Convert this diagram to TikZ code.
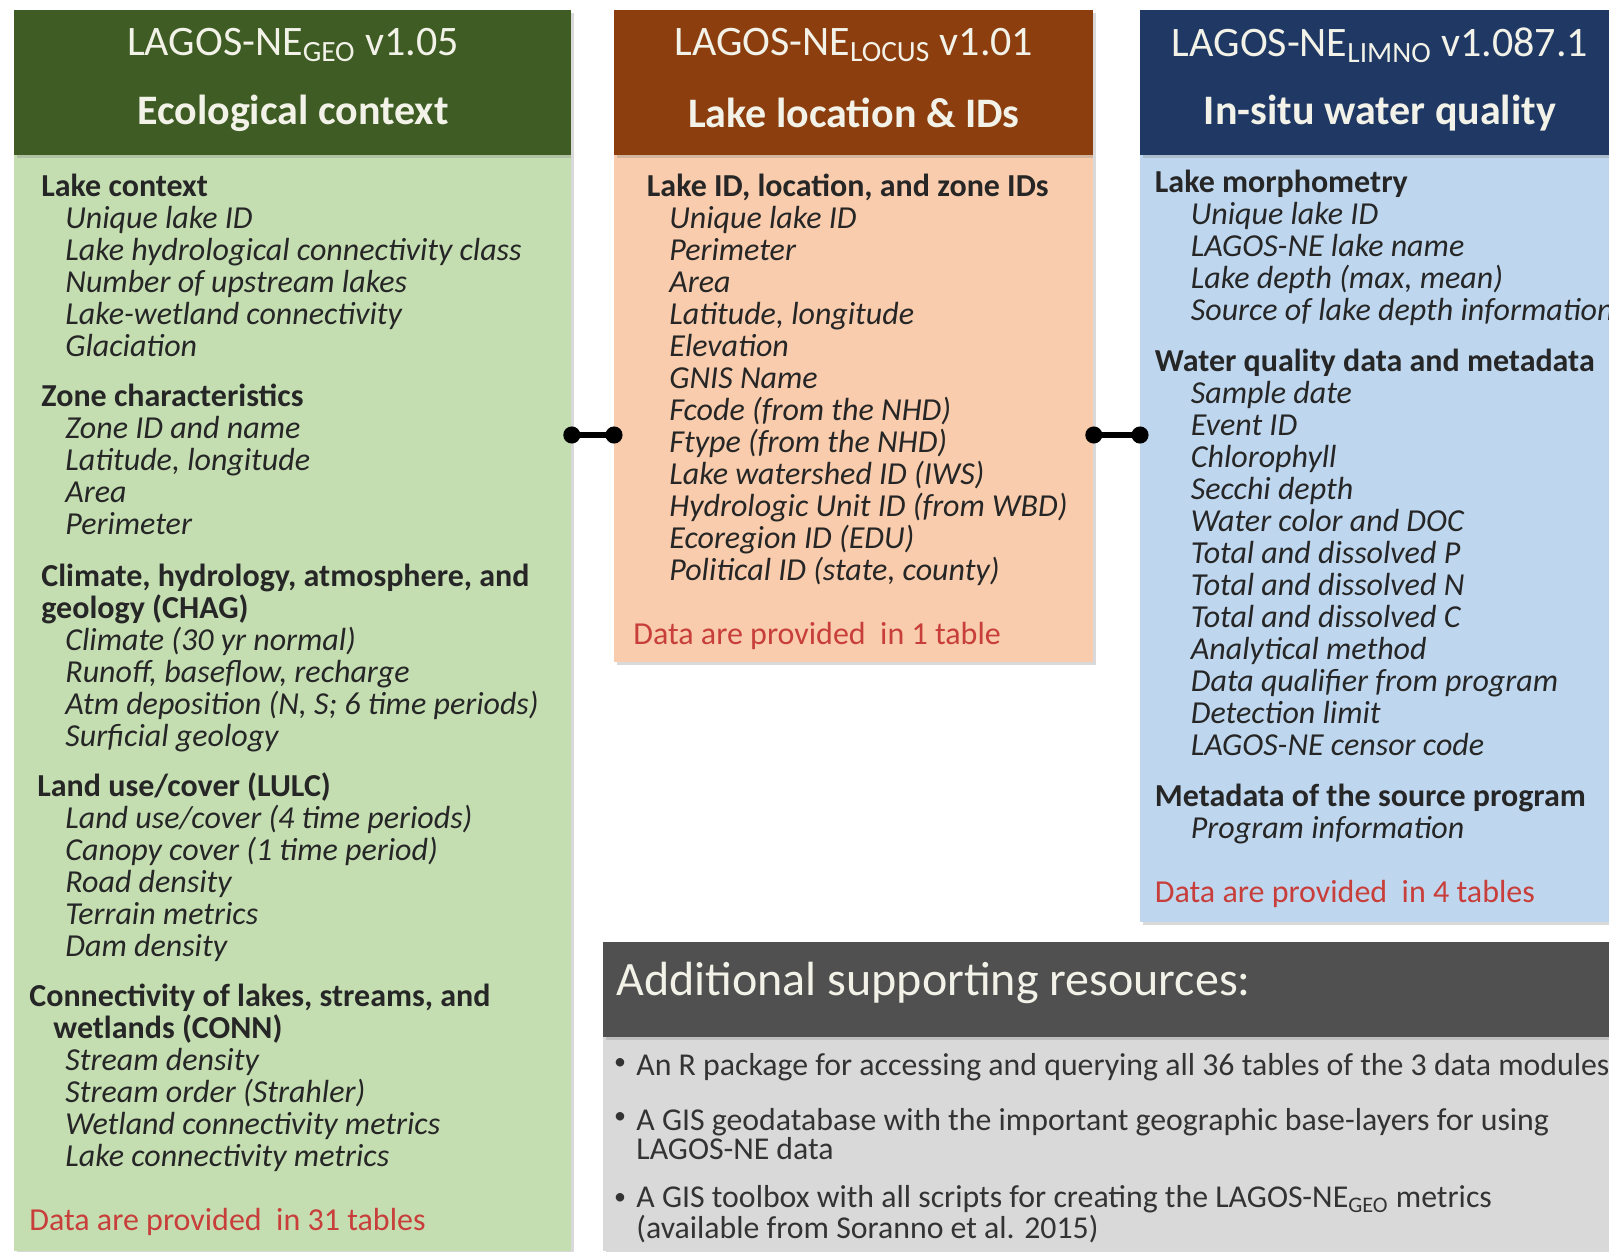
\documentclass[tikz,border=0pt]{standalone}
\usepackage{fontspec}
\setmainfont{Carlito}
\usetikzlibrary{positioning,shadows,arrows.meta}

\definecolor{geodark}{RGB}{62,92,35}
\definecolor{geolight}{RGB}{196,222,178}
\definecolor{locdark}{RGB}{140,62,14}
\definecolor{loclight}{RGB}{248,204,172}
\definecolor{limdark}{RGB}{31,56,100}
\definecolor{limlight}{RGB}{190,215,238}
\definecolor{resdark}{RGB}{80,80,80}
\definecolor{reslight}{RGB}{217,217,217}
\definecolor{datared}{RGB}{200,62,58}
\definecolor{hdrtext}{RGB}{242,242,232}

\newcommand{\itm}[1]{\hspace*{18pt}\textit{#1}}
\newcommand{\sect}[1]{\hspace*{6pt}\textbf{#1}}

\tikzset{
  panel/.style={rectangle, inner sep=0pt, anchor=north west, fill=#1,
    drop shadow={shadow xshift=1.5pt, shadow yshift=-1.5pt, opacity=.3}},
  title/.style={text=hdrtext, font=\fontsize{21}{24}\selectfont},
  subtitle/.style={text=hdrtext, font=\bfseries\fontsize{21}{24}\selectfont},
  list/.style={anchor=north west, inner sep=0pt, align=left, text=black!85,
    font=\fontsize{16}{15.98}\selectfont},
  restitle/.style={anchor=west, inner sep=0pt, text=hdrtext,
    font=\fontsize{24}{26}\selectfont},
  resitem/.style={anchor=west, inner sep=0pt, align=left, text=black!80,
    font=\fontsize{15.9}{12.8}\selectfont},
  bullet/.style={inner sep=0pt, text=black!80, font=\fontsize{12}{12}\selectfont},
  link/.style={line width=2.8pt, {Circle[length=8.5pt]}-{Circle[length=8.5pt]},
    shorten <=-4.25pt, shorten >=-4.25pt}
}

\begin{document}
\begin{tikzpicture}[x=0.5pt, y=-0.5pt]
  \useasboundingbox (0,0) rectangle (1609,1251);

  % ecological context
  \node[panel=geolight, minimum width=278.5pt, minimum height=548pt] (geobody) at (14,155) {};
  \node[panel=geodark, minimum width=278.5pt, minimum height=72.5pt] (geohdr) at (14,10) {};
  \node[title] (geotitle) at ([yshift=-17.5pt]geohdr.north) {LAGOS-NE\textsubscript{GEO} v1.05};
  \node[subtitle] (geosub) at ([yshift=-51.5pt]geohdr.north) {Ecological context};
  \node[list] (geolist) at (29,174) {%
    \sect{Lake context}\\
    \itm{Unique lake ID}\\
    \itm{Lake hydrological connectivity class}\\
    \itm{Number of upstream lakes}\\
    \itm{Lake-wetland connectivity}\\
    \itm{Glaciation}\\[9pt]
    \sect{Zone characteristics}\\
    \itm{Zone ID and name}\\
    \itm{Latitude, longitude}\\
    \itm{Area}\\
    \itm{Perimeter}\\[10pt]
    \sect{Climate, hydrology, atmosphere, and}\\
    \sect{geology (CHAG)}\\
    \itm{Climate (30 yr normal)}\\
    \itm{Runoff, baseflow, recharge}\\
    \itm{Atm deposition (N, S; 6 time periods)}\\
    \itm{Surficial geology}\\[9.2pt]
    \hspace*{4pt}\textbf{Land use/cover (LULC)}\\
    \itm{Land use/cover (4 time periods)}\\
    \itm{Canopy cover (1 time period)}\\
    \itm{Road density}\\
    \itm{Terrain metrics}\\
    \itm{Dam density}\\[9.2pt]
    \textbf{Connectivity of lakes, streams, and}\\
    \hspace*{12pt}\textbf{wetlands (CONN)}\\
    \itm{Stream density}\\
    \itm{Stream order (Strahler)}\\
    \itm{Wetland connectivity metrics}\\
    \itm{Lake connectivity metrics}\\[16pt]
    \textcolor{datared}{Data are provided\ \ in 31 tables}};

  % lake location
  \node[panel=loclight, minimum width=239.5pt, minimum height=253.5pt] (locbody) at (614,155) {};
  \node[panel=locdark, minimum width=239.5pt, minimum height=72.5pt] (lochdr) at (614,10) {};
  \node[title] (loctitle) at ([yshift=-17.5pt]lochdr.north) {LAGOS-NE\textsubscript{LOCUS} v1.01};
  \node[subtitle] (locsub) at ([yshift=-51.5pt]lochdr.north) {Lake location \& IDs};
  \node[list] (loclist) at (633,174) {%
    \hspace*{6.75pt}\textbf{Lake ID, location, and zone IDs}\\
    \itm{Unique lake ID}\\
    \itm{Perimeter}\\
    \itm{Area}\\
    \itm{Latitude, longitude}\\
    \itm{Elevation}\\
    \itm{GNIS Name}\\
    \itm{Fcode (from the NHD)}\\
    \itm{Ftype (from the NHD)}\\
    \itm{Lake watershed ID (IWS)}\\
    \itm{Hydrologic Unit ID (from WBD)}\\
    \itm{Ecoregion ID (EDU)}\\
    \itm{Political ID (state, county)}\\[16pt]
    \textcolor{datared}{Data are provided\ \ in 1 table}};

  % in-situ water quality
  \node[panel=limlight, minimum width=234.5pt, minimum height=383.5pt] (limbody) at (1140,155) {};
  \node[panel=limdark, minimum width=234.5pt, minimum height=72.5pt] (limhdr) at (1140,10) {};
  \node[title] (limtitle) at ([xshift=2.5pt,yshift=-17.5pt]limhdr.north) {LAGOS-NE\textsubscript{LIMNO} v1.087.1};
  \node[subtitle] (limsub) at ([xshift=2.5pt,yshift=-51.5pt]limhdr.north) {In-situ water quality};
  \node[list] (limlist) at (1154.5,170) {%
    \textbf{Lake morphometry}\\
    \itm{Unique lake ID}\\
    \itm{LAGOS-NE lake name}\\
    \itm{Lake depth (max, mean)}\\
    \itm{Source of lake depth information}\\[9.5pt]
    \textbf{Water quality data and metadata}\\
    \itm{Sample date}\\
    \itm{Event ID}\\
    \itm{Chlorophyll}\\
    \itm{Secchi depth}\\
    \itm{Water color and DOC}\\
    \itm{Total and dissolved P}\\
    \itm{Total and dissolved N}\\
    \itm{Total and dissolved C}\\
    \itm{Analytical method}\\
    \itm{Data qualifier from program}\\
    \itm{Detection limit}\\
    \itm{LAGOS-NE censor code}\\[9.5pt]
    \textbf{Metadata of the source program}\\
    \itm{Program information}\\[16pt]
    \textcolor{datared}{Data are provided\ \ in 4 tables}};

  % links between the modules
  \coordinate (linky) at (0,435);
  \draw[link] (geobody.east |- linky) -- (locbody.west |- linky);
  \draw[link] (locbody.east |- linky) -- (limbody.west |- linky);

  % supporting resources
  \node[panel=reslight, minimum width=503pt, minimum height=107pt] (resbody) at (603,1037) {};
  \node[panel=resdark, minimum width=503pt, minimum height=47.5pt] (reshdr) at (603,942) {};
  \node[restitle] (restitle) at (616,983) {Additional supporting resources:};
  \node[bullet] (dot1) at (620,1064) {•};
  \node[resitem] (res1) at (636,1067) {An R package for accessing and querying all 36 tables of the 3 data modules};
  \node[bullet] (dot2) at (620,1118) {•};
  \node[resitem] (res2) at (636,1134) {A GIS geodatabase with the important geographic base-layers for using\\LAGOS-NE data};
  \node[bullet] (dot3) at (620,1199) {•};
  \node[resitem] (res3) at (636,1214) {A GIS toolbox with all scripts for creating the LAGOS-NE\textsubscript{GEO} metrics\\(available from Soranno et al. 2015)};
\end{tikzpicture}
\end{document}
